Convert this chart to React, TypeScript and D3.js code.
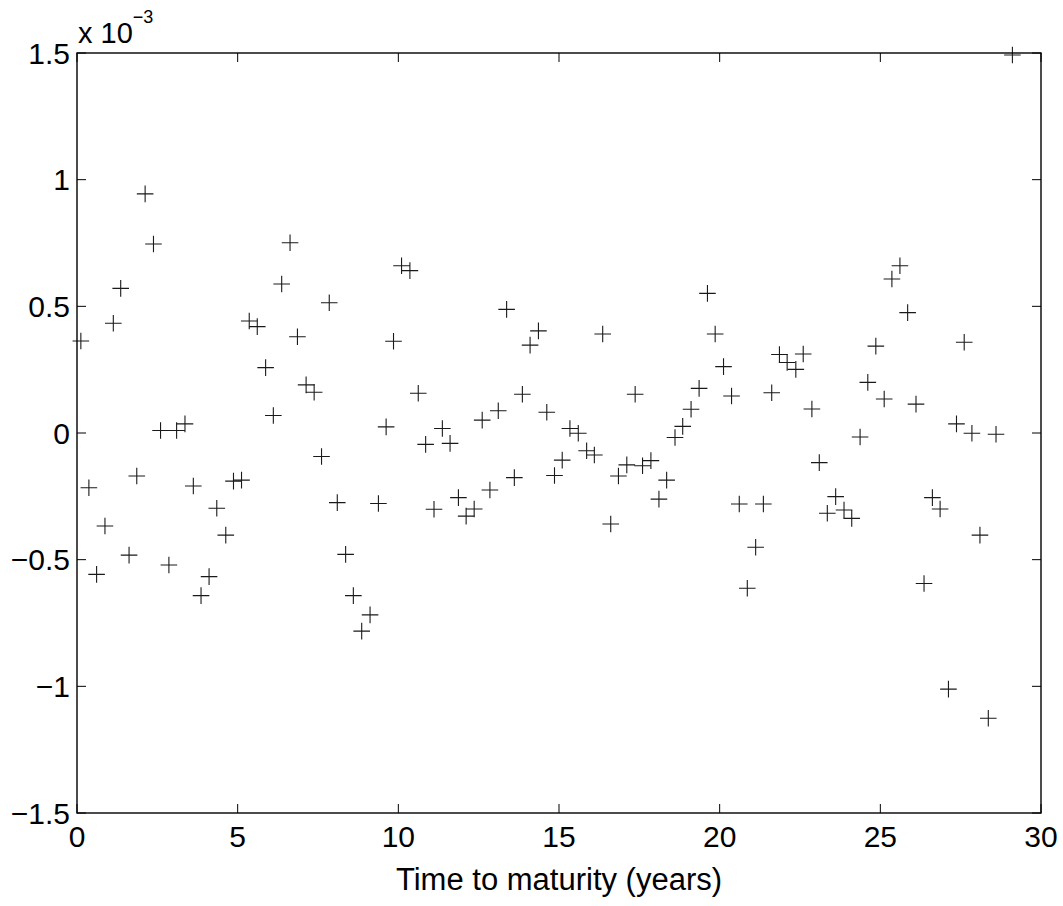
import * as d3 from "d3";

// time to maturity (years)
const maturities = [
  0.12, 0.37, 0.61, 0.87, 1.13, 1.36, 1.62, 1.86, 2.12, 2.38, 2.6, 2.86, 3.1, 3.36, 3.62, 3.86,
  4.11, 4.35, 4.63, 4.87, 5.12, 5.36, 5.61, 5.87, 6.11, 6.37, 6.63, 6.86, 7.13, 7.38, 7.61, 7.85,
  8.1, 8.36, 8.6, 8.86, 9.12, 9.38, 9.62, 9.85, 10.1, 10.36, 10.62, 10.85, 11.11, 11.37, 11.61,
  11.87, 12.11, 12.36, 12.61, 12.85, 13.11, 13.37, 13.61, 13.86, 14.1, 14.36, 14.62, 14.86, 15.1,
  15.34, 15.6, 15.86, 16.1, 16.36, 16.61, 16.85, 17.11, 17.37, 17.6, 17.86, 18.11, 18.35, 18.61,
  18.85, 19.11, 19.36, 19.62, 19.86, 20.12, 20.37, 20.61, 20.86, 21.12, 21.36, 21.62, 21.86, 22.1,
  22.37, 22.6, 22.87, 23.1, 23.35, 23.61, 23.87, 24.11, 24.37, 24.61, 24.86, 25.12, 25.36, 25.61,
  25.85, 26.11, 26.36, 26.62, 26.86, 27.12, 27.37, 27.61, 27.85, 28.1, 28.36, 28.6, 29.11,
];

// residuals, in units of 1e-3
const residuals = [
  0.363, -0.216, -0.558, -0.367, 0.433, 0.571, -0.482, -0.17, 0.944, 0.746, 0.01, -0.521, 0.01,
  0.036, -0.209, -0.642, -0.567, -0.297, -0.403, -0.19, -0.186, 0.442, 0.42, 0.258, 0.069, 0.588,
  0.751, 0.38, 0.19, 0.161, -0.093, 0.514, -0.275, -0.479, -0.642, -0.782, -0.718, -0.278, 0.024,
  0.362, 0.66, 0.641, 0.157, -0.045, -0.301, 0.018, -0.041, -0.255, -0.328, -0.3, 0.051, -0.225,
  0.088, 0.488, -0.176, 0.153, 0.347, 0.403, 0.082, -0.168, -0.107, 0.018, -0.001, -0.07, -0.087,
  0.391, -0.359, -0.17, -0.126, 0.153, -0.129, -0.109, -0.261, -0.186, -0.018, 0.026, 0.094, 0.176,
  0.551, 0.391, 0.262, 0.146, -0.28, -0.613, -0.451, -0.28, 0.159, 0.31, 0.278, 0.251, 0.312, 0.095,
  -0.117, -0.317, -0.251, -0.304, -0.337, -0.016, 0.2, 0.343, 0.134, 0.608, 0.66, 0.475, 0.114,
  -0.594, -0.255, -0.3, -1.011, 0.036, 0.358, -0.001, -0.403, -1.126, -0.005, 1.492,
];

const xTicks = [0, 5, 10, 15, 20, 25, 30];
const yTicks = [-1.5, -1, -0.5, 0, 0.5, 1, 1.5];
const yTickLabels = ["\u22121.5", "\u22121", "\u22120.5", "0", "0.5", "1", "1.5"];

const width = 1063;
const height = 906;
const margin = { top: 53, right: 22, bottom: 93, left: 77 };
const font = "'Liberation Sans', Arial, Helvetica, sans-serif";

export default function App() {
  const x = d3.scaleLinear().domain([0, 30]).range([margin.left, width - margin.right]);
  const y = d3.scaleLinear().domain([-1.5, 1.5]).range([height - margin.bottom, margin.top]);
  const [x0, x1] = x.range();
  const [y0, y1] = y.range(); // y0 bottom, y1 top
  const tick = 9;
  const m = 8.3; // half size of the + marker

  return (
    <svg
      width={width}
      height={height}
      style={{ position: "absolute", left: 0, top: 0, background: "#fff" }}
      fontFamily={font}
    >
      <rect x={0} y={0} width={width} height={height} fill="#fff" />

      {/* ticks on all four sides, pointing inward */}
      {xTicks.map((t) => (
        <g key={"xt" + t} stroke="#000" strokeWidth={1}>
          <line x1={x(t)} x2={x(t)} y1={y0} y2={y0 - tick} />
          <line x1={x(t)} x2={x(t)} y1={y1} y2={y1 + tick} />
        </g>
      ))}
      {yTicks.map((t) => (
        <g key={"yt" + t} stroke="#000" strokeWidth={1}>
          <line x1={x0} x2={x0 + tick} y1={y(t)} y2={y(t)} />
          <line x1={x1} x2={x1 - tick} y1={y(t)} y2={y(t)} />
        </g>
      ))}

      {/* markers */}
      <g stroke="#1a1a1a" strokeWidth={1.1}>
        {maturities.map((t, i) => {
          const cx = x(t);
          const cy = y(residuals[i]);
          return (
            <path key={i} d={`M${cx - m},${cy}H${cx + m}M${cx},${cy - m}V${cy + m}`} fill="none" />
          );
        })}
      </g>

      {/* box */}
      <rect
        x={x0}
        y={y1}
        width={x1 - x0}
        height={y0 - y1}
        fill="none"
        stroke="#000"
        strokeWidth={1.4}
      />

      {/* tick labels */}
      {xTicks.map((t) => (
        <text key={"xl" + t} x={x(t)} y={y0 + 34} textAnchor="middle" fontSize={30} fill="#000">
          {t}
        </text>
      ))}
      {yTicks.map((t, i) => (
        <text
          key={"yl" + t}
          x={x0 - 7}
          y={y(t) + 10.5}
          textAnchor="end"
          fontSize={30}
          fill="#000"
        >
          {yTickLabels[i]}
        </text>
      ))}

      {/* exponent */}
      <text x={x0 + 1} y={43} fontSize={29} fill="#000">
        x 10
        <tspan dy={-20} fontSize={18}>
          {"\u22123"}
        </tspan>
      </text>

      {/* axis label */}
      <text x={(x0 + x1) / 2} y={890} textAnchor="middle" fontSize={31} fill="#000">
        Time to maturity (years)
      </text>
    </svg>
  );
}
